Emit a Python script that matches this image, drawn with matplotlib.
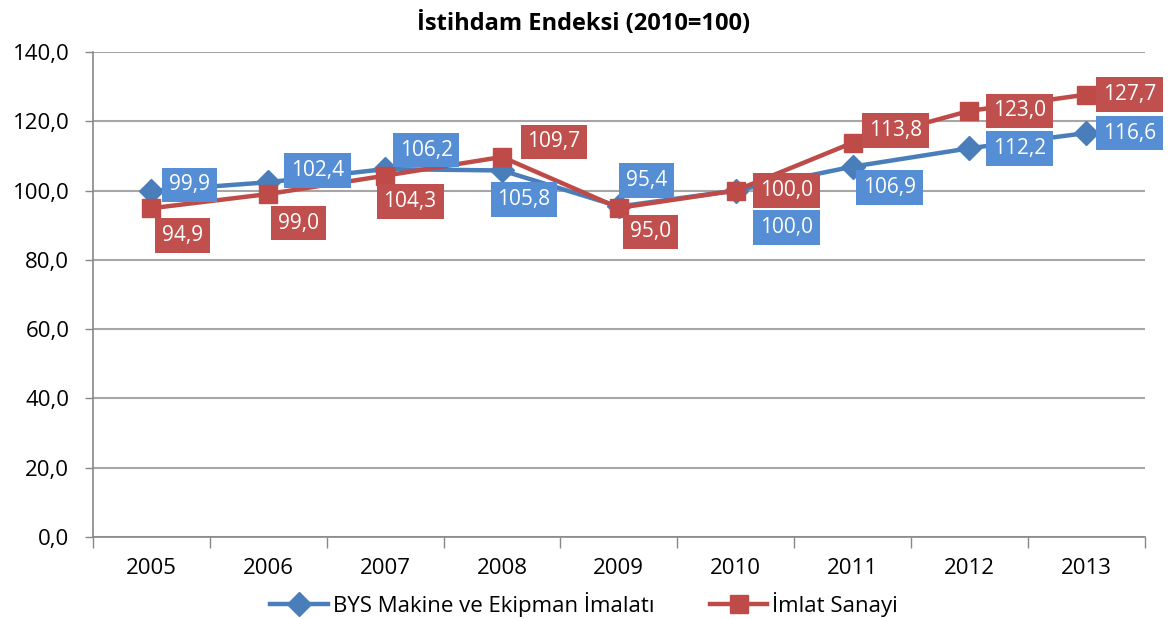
import matplotlib
matplotlib.use('Agg')
import matplotlib.pyplot as plt
from matplotlib.ticker import FuncFormatter, FixedLocator

# Veriler
yillar = ['2005', '2006', '2007', '2008', '2009', '2010', '2011', '2012', '2013']
bys_makine = [99.9, 102.4, 106.2, 105.8, 95.4, 100.0, 106.9, 112.2, 116.6]
imalat_sanayi = [94.9, 99.0, 104.3, 109.7, 95.0, 100.0, 113.8, 123.0, 127.7]

# Etiket kaydirmalari (piksel)
ofs_mavi = [(38, 6), (49, 12), (41, 19), (22, -29), (28, 26), (51, -37), (37, -21), (50, 0), (43, 0)]
ofs_kirmizi = [(31, -27), (30, -29), (25, -26), (52, 15), (32, -24), (51, 0), (43, 12), (50, 0), (43, 0)]

plt.rcParams['font.family'] = ['Open Sans', 'DejaVu Sans']

mavi_cizgi = '#4A7EBB'
mavi_kutu = '#558ED5'
kirmizi = '#BE4B48'
kirmizi_kutu = '#C0504D'

fig = plt.figure(figsize=(11.68, 6.19), dpi=100)
ax = fig.add_axes([0.0796, 0.1325, 0.9004, 0.7835])

x = list(range(len(yillar)))
ax.plot(x, bys_makine, color=mavi_cizgi, lw=3.2, marker='D', markersize=12,
        label='BYS Makine ve Ekipman İmalatı', zorder=3)
ax.plot(x, imalat_sanayi, color=kirmizi, lw=3.2, marker='s', markersize=13,
        label='İmlat Sanayi', zorder=4)

def etiket(xs, ys, ofs, renk):
    for xi, yi, (dx, dy) in zip(xs, ys, ofs):
        ax.annotate(f'{yi:.1f}'.replace('.', ','), xy=(xi, yi), xytext=(dx, dy),
                    textcoords='offset pixels', ha='center', va='center',
                    fontsize=15, color='white', zorder=6,
                    bbox=dict(boxstyle='square,pad=0.33', fc=renk, ec='none'))

etiket(x, bys_makine, ofs_mavi, mavi_kutu)
etiket(x, imalat_sanayi, ofs_kirmizi, kirmizi_kutu)

ax.set_xlim(-0.5, len(yillar) - 0.5)
ax.set_ylim(0, 140)
ax.set_yticks(range(0, 141, 20))
ax.yaxis.set_major_formatter(FuncFormatter(lambda v, p: f'{v:.1f}'.replace('.', ',')))
ax.set_xticks(x)
ax.set_xticklabels(yillar)
ax.xaxis.set_minor_locator(FixedLocator([i - 0.5 for i in range(len(yillar) + 1)]))
ax.tick_params(axis='x', which='major', length=0, pad=15, labelsize=16)
ax.tick_params(axis='x', which='minor', length=8, color='#888888', width=1)
ax.tick_params(axis='y', length=6, color='#888888', width=1, labelsize=16, pad=11)

ax.grid(axis='y', color='#A6A6A6', lw=1.5)
ax.set_axisbelow(True)
for s in ['top', 'right']:
    ax.spines[s].set_visible(False)
ax.spines['left'].set_color('#888888')
ax.spines['bottom'].set_color('#888888')
ax.spines['left'].set_linewidth(1.2)
ax.spines['bottom'].set_linewidth(1.2)

fig.text(0.5, 0.962, 'İstihdam Endeksi (2010=100)', ha='center', va='center',
         fontsize=17, fontweight='bold')

fig.legend(loc='center', bbox_to_anchor=(0.5, 0.024), ncol=2, frameon=False,
           fontsize=16, handlelength=2.6, columnspacing=2.5, handletextpad=0.2,
           borderaxespad=0)

fig.savefig('out.png', dpi=100)
